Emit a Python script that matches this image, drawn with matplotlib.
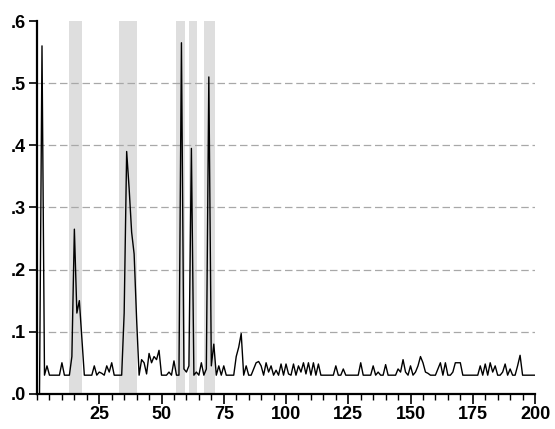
import numpy as np
import matplotlib.pyplot as plt
from matplotlib.ticker import MultipleLocator

# series values, observation 1..200
values = [
    0.0, 0.56, 0.03, 0.045, 0.03, 0.03, 0.03, 0.03, 0.03, 0.05,
    0.03, 0.03, 0.03, 0.06, 0.265, 0.13, 0.15, 0.09, 0.03, 0.03,
    0.03, 0.03, 0.045, 0.03, 0.035, 0.033, 0.03, 0.045, 0.035, 0.05,
    0.03, 0.03, 0.03, 0.03, 0.13, 0.39, 0.33, 0.26, 0.225, 0.12,
    0.03, 0.055, 0.05, 0.032, 0.065, 0.05, 0.06, 0.055, 0.07, 0.03,
    0.03, 0.03, 0.035, 0.03, 0.053, 0.03, 0.03, 0.565, 0.04, 0.035,
    0.045, 0.395, 0.03, 0.035, 0.03, 0.05, 0.03, 0.04, 0.51, 0.045,
    0.08, 0.03, 0.045, 0.03, 0.045, 0.03, 0.03, 0.03, 0.03, 0.06,
    0.075, 0.097, 0.03, 0.045, 0.03, 0.03, 0.04, 0.05, 0.052, 0.045,
    0.03, 0.05, 0.035, 0.045, 0.03, 0.038, 0.03, 0.048, 0.03, 0.048,
    0.032, 0.03, 0.048, 0.03, 0.045, 0.035, 0.05, 0.032, 0.05, 0.03,
    0.05, 0.03, 0.048, 0.03, 0.03, 0.03, 0.03, 0.03, 0.03, 0.045,
    0.03, 0.03, 0.04, 0.03, 0.03, 0.03, 0.03, 0.03, 0.03, 0.05,
    0.03, 0.03, 0.03, 0.03, 0.045, 0.03, 0.035, 0.03, 0.03, 0.047,
    0.03, 0.03, 0.03, 0.03, 0.04, 0.035, 0.055, 0.035, 0.03, 0.045,
    0.03, 0.035, 0.045, 0.06, 0.05, 0.035, 0.033, 0.03, 0.03, 0.03,
    0.04, 0.05, 0.03, 0.05, 0.03, 0.03, 0.035, 0.05, 0.05, 0.05,
    0.03, 0.03, 0.03, 0.03, 0.03, 0.03, 0.03, 0.045, 0.03, 0.048,
    0.03, 0.05, 0.035, 0.045, 0.03, 0.03, 0.035, 0.048, 0.03, 0.04,
    0.03, 0.03, 0.045, 0.062, 0.03, 0.03, 0.03, 0.03, 0.03, 0.03,
]
obs = np.arange(1, len(values) + 1)

# shaded periods (start, end)
shade_start = [12.8, 32.9, 56.0, 60.9, 66.9]
shade_end = [18.0, 40.1, 59.3, 64.1, 71.3]

yticks = [0.0, 0.1, 0.2, 0.3, 0.4, 0.5, 0.6]
ytick_labels = ['.0', '.1', '.2', '.3', '.4', '.5', '.6']
xticks = [25, 50, 75, 100, 125, 150, 175, 200]

plt.rcParams['font.family'] = ['Liberation Sans', 'DejaVu Sans']

fig = plt.figure(figsize=(5.55, 4.29), dpi=100)
ax = fig.add_axes([0.0667, 0.082, 0.8973, 0.869])

for s, e in zip(shade_start, shade_end):
    ax.axvspan(s, e, color='#dedede', lw=0, zorder=0)

for y in yticks[1:-1]:
    ax.axhline(y, color='#a8a8a8', lw=0.9, ls=(0, (6, 3)), zorder=1)

ax.plot(obs, values, color='black', lw=1.0, zorder=3)

ax.set_xlim(0, 200)
ax.set_ylim(0, 0.6)

ax.set_yticks(yticks)
ax.set_yticklabels(ytick_labels, fontsize=13, fontweight='bold')
ax.set_xticks(xticks)
ax.set_xticklabels([str(t) for t in xticks], fontsize=13, fontweight='bold')
ax.xaxis.set_minor_locator(MultipleLocator(5))

ax.tick_params(axis='y', direction='out', length=6, width=1.2, pad=2)
ax.tick_params(axis='x', which='major', direction='out', length=7, width=1.2, pad=2)
ax.tick_params(axis='x', which='minor', direction='out', length=4, width=1.0)

ax.spines['top'].set_visible(False)
ax.spines['right'].set_visible(False)
ax.spines['left'].set_linewidth(1.6)
ax.spines['bottom'].set_linewidth(1.6)

fig.savefig('out.png', dpi=100)
